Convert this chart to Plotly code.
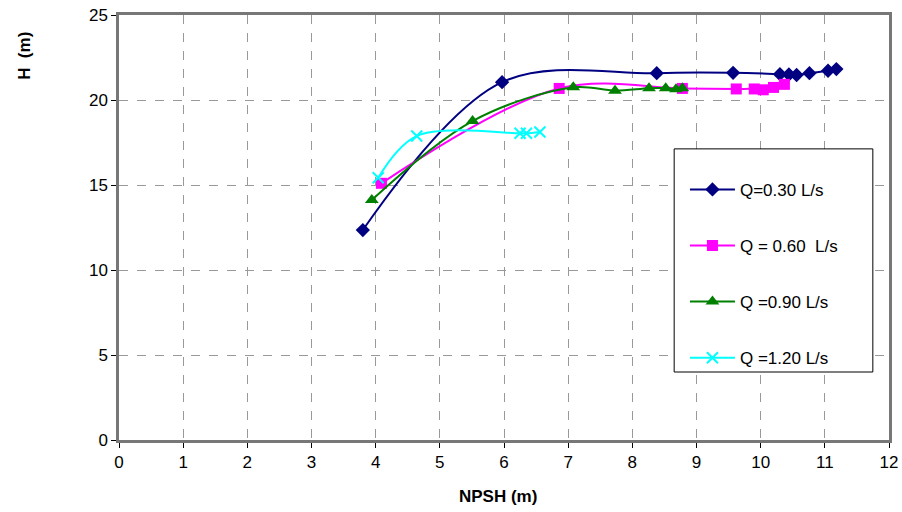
import plotly.graph_objects as go

# NPSH (m) vs head H (m) for four flow rates
npsh_q030 = [3.80, 5.97, 8.38, 9.57, 10.30, 10.44, 10.56, 10.76, 11.05, 11.18]
head_q030 = [12.35, 21.05, 21.58, 21.60, 21.52, 21.50, 21.47, 21.58, 21.72, 21.82]

npsh_q060 = [4.09, 6.86, 8.78, 9.62, 9.90, 10.04, 10.20, 10.37]
head_q060 = [15.10, 20.68, 20.68, 20.65, 20.65, 20.60, 20.74, 20.92]

npsh_q090 = [3.94, 5.51, 7.08, 7.73, 8.26, 8.52, 8.68, 8.78]
head_q090 = [14.12, 18.76, 20.75, 20.55, 20.69, 20.69, 20.63, 20.69]

npsh_q120 = [4.04, 4.64, 6.25, 6.35, 6.56]
head_q120 = [15.43, 17.88, 18.04, 18.04, 18.12]

x_ticks = list(range(0, 13))
y_ticks = [0, 5, 10, 15, 20, 25]

series = [
    ("Q=0.30 L/s", npsh_q030, head_q030, "#000080",
     dict(symbol="diamond", size=11)),
    ("Q = 0.60\u00a0 L/s", npsh_q060, head_q060, "#FF00FF",
     dict(symbol="square", size=11)),
    ("Q =0.90 L/s", npsh_q090, head_q090, "#008000",
     dict(symbol="triangle-up", size=12)),
    ("Q =1.20 L/s", npsh_q120, head_q120, "#00FFFF",
     dict(symbol="x-thin-open", size=11, line=dict(width=2))),
]

fig = go.Figure()
for i, (name, xs, ys, color, mk) in enumerate(series):
    marker = dict(color=color, **mk)
    if "line" in marker:
        marker["line"]["color"] = color
    fig.add_trace(go.Scatter(
        x=xs, y=ys, name=name, mode="lines+markers",
        line=dict(color=color, width=2, shape="spline", smoothing=1.0),
        marker=marker, legendgroup=f"g{i}",
    ))

FONT = "Arial, Liberation Sans, sans-serif"
tick_font = dict(family=FONT, size=17, color="#000")
title_font = dict(family=FONT, size=17, color="#000")

axis_common = dict(
    ticks="outside", ticklen=5, tickcolor="#000",
    showgrid=True, gridcolor="#999", griddash="dash", gridwidth=1,
    showline=True, linecolor="#777", linewidth=2.5, mirror=True,
    zeroline=False, tickfont=tick_font, automargin=False,
)

fig.update_layout(
    width=902, height=512,
    margin=dict(l=119, r=13, t=15, b=72),
    paper_bgcolor="white", plot_bgcolor="white",
    font=tick_font,
    showlegend=True,
    legend=dict(
        x=0.735, y=0.631, xanchor="left", yanchor="top",
        bgcolor="rgba(0,0,0,0)", borderwidth=0,
        font=dict(family=FONT, size=17, color="#000"),
        traceorder="grouped", tracegroupgap=31, itemwidth=45,
    ),
    xaxis=dict(range=[0, 12], tickvals=x_ticks, **axis_common),
    yaxis=dict(range=[0, 25], tickvals=y_ticks, **axis_common),
    shapes=[dict(
        type="rect", xref="paper", yref="paper",
        x0=0.721, x1=0.979, y0=0.160, y1=0.685,
        line=dict(color="#000", width=1), fillcolor="white", layer="above",
    )],
    annotations=[
        dict(text="<b>H  (m)</b>", xref="paper", yref="paper",
             x=-0.122, y=0.904, xanchor="center", yanchor="middle",
             textangle=-90, showarrow=False, font=title_font),
        dict(text="<b>NPSH (m)</b>", xref="paper", yref="paper",
             x=0.492, y=-0.134, xanchor="center", yanchor="middle",
             showarrow=False, font=title_font),
    ],
)

fig.write_html("out.html")
